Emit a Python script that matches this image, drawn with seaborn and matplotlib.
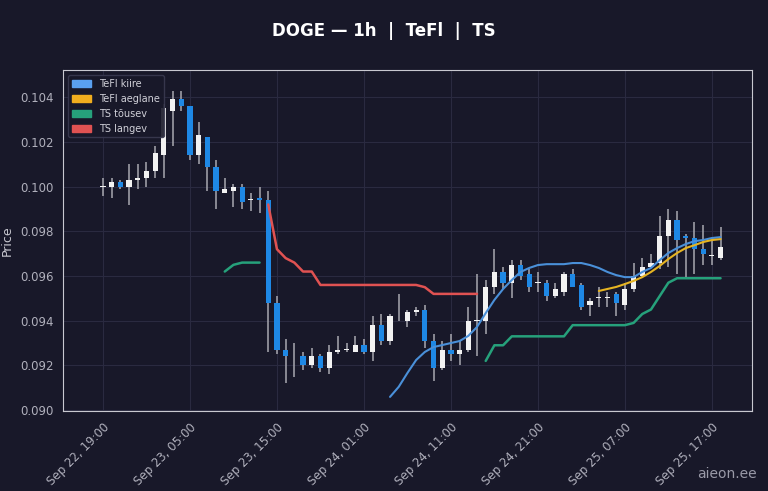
import numpy as np
import pandas as pd
import matplotlib
matplotlib.use("Agg")
import matplotlib.pyplot as plt
import matplotlib.dates as mdates
from matplotlib.patches import Patch
import seaborn as sns

# OHLC, tunnid alates 22.09 19:00
opens = [0.1000, 0.1000, 0.1002, 0.1000, 0.1003, 0.1004, 0.1007, 0.1014, 0.1034, 0.1039,
         0.1036, 0.1014, 0.1022, 0.1009, 0.0997, 0.0998, 0.1000, 0.0994, 0.0995, 0.0994,
         0.0948, 0.0927, 0.0924, 0.0924, 0.0920, 0.0924, 0.0919, 0.0926, 0.0927, 0.0926,
         0.0929, 0.0926, 0.0938, 0.0931, 0.0941, 0.0940, 0.0944, 0.0945, 0.0931, 0.0919,
         0.0927, 0.0925, 0.0927, 0.0940, 0.0940, 0.0955, 0.0962, 0.0957, 0.0965, 0.0961,
         0.0957, 0.0957, 0.0951, 0.0953, 0.0961, 0.0956, 0.0947, 0.0950, 0.0950, 0.0952,
         0.0947, 0.0954, 0.0960, 0.0964, 0.0966, 0.0978, 0.0985, 0.0978, 0.0977, 0.0972,
         0.0969, 0.0968]
closes = [0.1000, 0.1002, 0.1000, 0.1003, 0.1004, 0.1007, 0.1015, 0.1035, 0.1039, 0.1036,
          0.1014, 0.1023, 0.1009, 0.0998, 0.0999, 0.1000, 0.0993, 0.0994, 0.0994, 0.0948,
          0.0927, 0.0924, 0.0924, 0.0920, 0.0924, 0.0919, 0.0926, 0.0927, 0.0927, 0.0929,
          0.0926, 0.0938, 0.0931, 0.0942, 0.0941, 0.0944, 0.0945, 0.0931, 0.0919, 0.0927,
          0.0925, 0.0927, 0.0940, 0.0940, 0.0955, 0.0962, 0.0957, 0.0965, 0.0960, 0.0955,
          0.0957, 0.0951, 0.0954, 0.0961, 0.0955, 0.0946, 0.0949, 0.0950, 0.0950, 0.0948,
          0.0954, 0.0960, 0.0964, 0.0966, 0.0978, 0.0985, 0.0976, 0.0977, 0.0972, 0.0970,
          0.0969, 0.0973]
highs = [0.1004, 0.1004, 0.1003, 0.1010, 0.1010, 0.1011, 0.1018, 0.1037, 0.1043, 0.1043,
         0.1036, 0.1029, 0.1022, 0.1012, 0.1004, 0.1001, 0.1001, 0.0997, 0.1000, 0.0998,
         0.0951, 0.0932, 0.0930, 0.0926, 0.0928, 0.0925, 0.0929, 0.0933, 0.0930, 0.0933,
         0.0932, 0.0942, 0.0943, 0.0943, 0.0952, 0.0945, 0.0946, 0.0947, 0.0934, 0.0931,
         0.0934, 0.0931, 0.0946, 0.0961, 0.0958, 0.0972, 0.0964, 0.0967, 0.0967, 0.0963,
         0.0962, 0.0958, 0.0957, 0.0962, 0.0963, 0.0957, 0.0950, 0.0955, 0.0953, 0.0953,
         0.0957, 0.0966, 0.0968, 0.0970, 0.0987, 0.0990, 0.0989, 0.0979, 0.0984, 0.0983,
         0.0976, 0.0982]
lows = [0.0996, 0.0995, 0.0999, 0.0992, 0.0999, 0.1000, 0.1004, 0.1004, 0.1018, 0.1034,
        0.1012, 0.1010, 0.0998, 0.0990, 0.0997, 0.0991, 0.0990, 0.0989, 0.0988, 0.0926,
        0.0925, 0.0912, 0.0915, 0.0918, 0.0919, 0.0917, 0.0916, 0.0925, 0.0926, 0.0926,
        0.0925, 0.0922, 0.0929, 0.0929, 0.0940, 0.0937, 0.0942, 0.0928, 0.0913, 0.0918,
        0.0922, 0.0920, 0.0926, 0.0924, 0.0934, 0.0952, 0.0954, 0.0950, 0.0958, 0.0953,
        0.0953, 0.0949, 0.0950, 0.0951, 0.0955, 0.0945, 0.0942, 0.0946, 0.0946, 0.0942,
        0.0945, 0.0953, 0.0959, 0.0964, 0.0963, 0.0964, 0.0961, 0.0959, 0.0961, 0.0965,
        0.0965, 0.0967]

tefl_kiire = [np.nan] * 33 + [
    0.09059, 0.09104, 0.09166, 0.09224, 0.09260, 0.09282, 0.09291, 0.09300, 0.09309, 0.09332,
    0.09372, 0.09434, 0.09493, 0.09542, 0.09582, 0.09618, 0.09636, 0.09649, 0.09653, 0.09653,
    0.09653, 0.09658, 0.09658, 0.09649, 0.09636, 0.09618, 0.09604, 0.09595, 0.09595, 0.09618,
    0.09636, 0.09671, 0.09703, 0.09725, 0.09743, 0.09756, 0.09761, 0.09770, 0.09774]
tefl_aeglane = [np.nan] * 57 + [
    0.09533, 0.09542, 0.09551, 0.09564, 0.09578, 0.09595, 0.09618, 0.09645, 0.09676, 0.09703,
    0.09725, 0.09738, 0.09752, 0.09761, 0.09765]
ts_tousev = ([np.nan] * 14 + [0.0962, 0.0965, 0.0966, 0.0966, 0.0966] + [np.nan] * 25
             + [0.0922, 0.0929, 0.0929, 0.0933, 0.0933, 0.0933, 0.0933, 0.0933, 0.0933, 0.0933,
                0.0938, 0.0938, 0.0938, 0.0938, 0.0938, 0.0938, 0.0938, 0.0939, 0.0943, 0.0945,
                0.0951, 0.0957, 0.0959, 0.0959, 0.0959, 0.0959, 0.0959, 0.0959])
ts_langev = ([np.nan] * 19
             + [0.0992, 0.0972, 0.0968, 0.0966, 0.0962, 0.0962, 0.0956]
             + [0.0956] * 11 + [0.0955] + [0.0952] * 6 + [np.nan] * 28)

times = pd.date_range("2025-09-22 19:00", periods=len(opens), freq="h")
df = pd.DataFrame({"time": times, "open": opens, "high": highs, "low": lows, "close": closes,
                   "kiire": tefl_kiire, "aeglane": tefl_aeglane,
                   "tousev": ts_tousev, "langev": ts_langev})

bg = "#181829"
sns.set_style("darkgrid", {"axes.facecolor": bg, "figure.facecolor": bg,
                           "grid.color": "#2a2a40", "axes.edgecolor": "#c8c8d0",
                           "text.color": "white", "axes.labelcolor": "#c8c8d0",
                           "xtick.color": "#b0b0bc", "ytick.color": "#b0b0bc"})
plt.rcParams["font.family"] = ["DejaVu Sans"]

fig, ax = plt.subplots(figsize=(7.68, 4.91), dpi=100)
fig.subplots_adjust(left=0.082, right=0.979, top=0.857, bottom=0.163)

up = df["close"] >= df["open"]
colors = np.where(up, "#f2f2f2", "#1e88e5")
ax.vlines(df["time"], df["low"], df["high"], color="#a8a8b0", linewidth=1.1, zorder=2)
ax.bar(df["time"], (df["close"] - df["open"]).abs().clip(lower=0.00004),
       bottom=df[["open", "close"]].min(axis=1), width=0.025, color=colors,
       linewidth=0, zorder=3)

# ax.plot, et NaN-id jääksid joonel vahedeks
ax.plot(df["time"], df["kiire"], color="#4a90d9", linewidth=1.5, zorder=4)
ax.plot(df["time"], df["aeglane"], color="#e6b422", linewidth=1.5, zorder=4)
ax.plot(df["time"], df["tousev"], color="#26a17b", linewidth=1.8, zorder=4)
ax.plot(df["time"], df["langev"], color="#e05252", linewidth=1.8, zorder=4)

ax.set_xlim(times[0] - pd.Timedelta(hours=4.6), times[0] + pd.Timedelta(hours=74.6))
ax.set_ylim(0.08996, 0.10521)
ax.set_xticks(pd.date_range(times[0], periods=8, freq="10h"))
ax.xaxis.set_major_formatter(mdates.DateFormatter("%b %d, %H:%M"))
plt.setp(ax.get_xticklabels(), rotation=45, ha="right", rotation_mode="anchor", fontsize=8.5)
ax.tick_params(axis="y", labelsize=8.5)
ax.yaxis.set_major_formatter(plt.FormatStrFormatter("%.3f"))
ax.set_xlabel("")
ax.set_ylabel("Price", fontsize=9)
for s in ax.spines.values():
    s.set_visible(True)
    s.set_color("#c8c8d0")

handles = [Patch(color="#5aa0f0", label="TeFl kiire"),
           Patch(color="#f0ad1e", label="TeFl aeglane"),
           Patch(color="#26a17b", label="TS tõusev"),
           Patch(color="#e05252", label="TS langev")]
leg = ax.legend(handles=handles, loc="upper left", fontsize=7, facecolor=bg,
                edgecolor="#3a3a50", labelcolor="#d0d0d8", framealpha=0.9)

fig.suptitle("DOGE — 1h  |  TeFl  |  TS", fontsize=12, fontweight="bold", color="white", y=0.955)
fig.text(0.985, 0.02, "aieon.ee", ha="right", va="bottom", fontsize=10, color="#9a9aa8")

plt.savefig("out.png", dpi=100, facecolor=bg)
